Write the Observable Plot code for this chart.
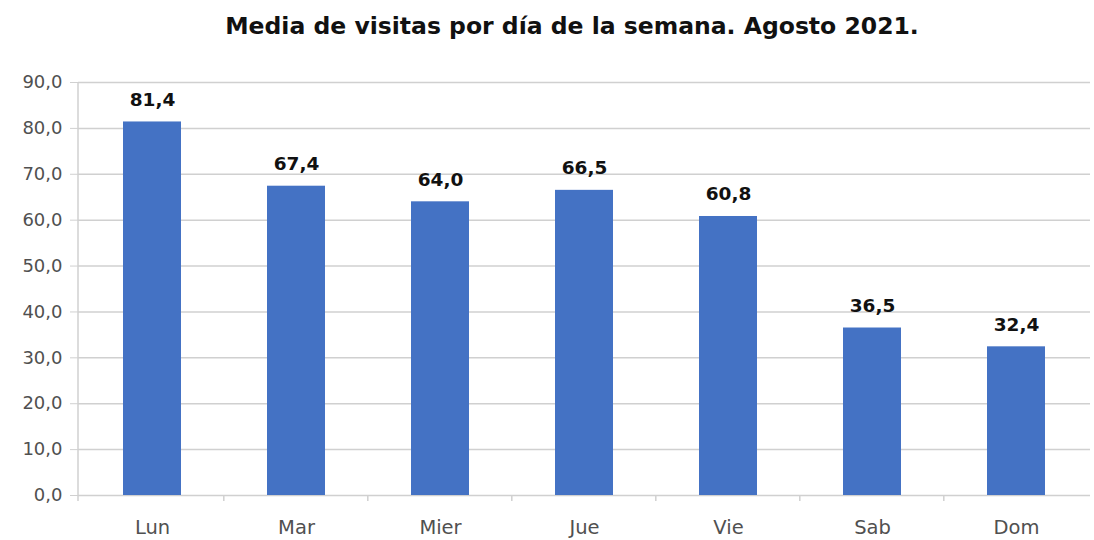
<!DOCTYPE html>
<html><head><meta charset="utf-8">
<script src="https://cdn.jsdelivr.net/npm/d3@7"></script>
<script src="https://cdn.jsdelivr.net/npm/@observablehq/plot@0.6"></script>
<style>
body{margin:0;background:#fff;font-family:"DejaVu Sans",sans-serif;overflow:hidden;}
#title{height:60px;line-height:52px;text-align:center;font-weight:bold;font-size:23.5px;color:#111;padding-left:50px;}
</style></head>
<body>
<div id="title">Media de visitas por día de la semana. Agosto 2021.</div>
<div id="chart"></div>
<script>
const dias = ["Lun","Mar","Mier","Jue","Vie","Sab","Dom"];
const visitas = [81.4, 67.4, 64.0, 66.5, 60.8, 36.5, 32.4];
const yTicks = [0,10,20,30,40,50,60,70,80,90];
const data = dias.map((d,i)=>({dia:d, v:visitas[i]}));
const fmt = v => v.toFixed(1).replace(".", ",");
const grid = "#d0d0d0";
const padIn = 0.6, padOut = 0.3;

const chart = Plot.plot({
  width:1094, height:480,
  marginTop:22, marginBottom:45, marginLeft:78, marginRight:4,
  style:{fontFamily:"DejaVu Sans, sans-serif", background:"#fff"},
  x:{domain:dias, paddingInner:padIn, paddingOuter:padOut, axis:null, label:null},
  y:{domain:[0,90], axis:null, label:null},
  marks:[
    Plot.gridY(yTicks, {stroke:grid, strokeOpacity:1, strokeWidth:1.5}),
    Plot.axisY({ticks:yTicks, label:null, tickSize:8, tickPadding:8, stroke:grid, strokeOpacity:1, tickFormat:fmt, fontSize:18, fill:"#505050", tickStrokeWidth:1.5}),
    Plot.axisX({label:null, tickSize:0, tickPadding:25, fontSize:19.5, fill:"#505050"}),
    (index, scales, values, dims) => {
      const g = d3.create("svg:g").attr("stroke", grid).attr("stroke-width", 1.5);
      const step = scales.x(dias[1]) - scales.x(dias[0]);
      const y0 = scales.y(0);
      g.append("line").attr("x1", dims.marginLeft).attr("x2", dims.marginLeft)
        .attr("y1", scales.y(90)).attr("y2", y0 + 6);
      dias.forEach((d,i) => {
        if (i === 0) return;
        const bx = scales.x(d) - padOut*step;
        g.append("line").attr("x1", bx).attr("x2", bx).attr("y1", y0).attr("y2", y0 + 6);
      });
      return g.node();
    },
    Plot.barY(data, {x:"dia", y:"v", fill:"#4472C4"}),
    Plot.text(data, {x:"dia", y:"v", text:d=>fmt(d.v), dy:-22, fontSize:18.5, fontWeight:"bold", fill:"#111"})
  ]
});
document.getElementById("chart").append(chart);
</script>
</body></html>
